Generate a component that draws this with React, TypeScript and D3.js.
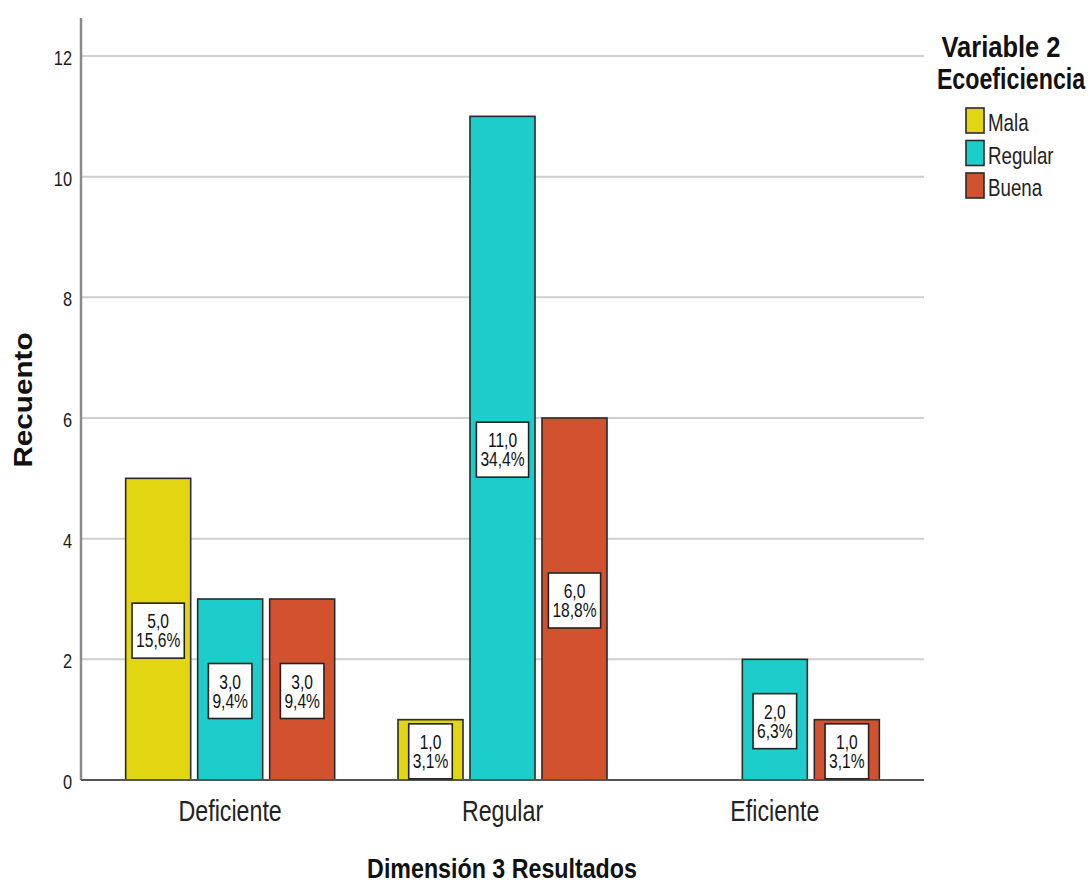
import React from "react";
import * as d3 from "d3";

const categories = ["Deficiente", "Regular", "Eficiente"];
const series = ["Mala", "Regular", "Buena"];
const colors = ["#E2D512", "#1CCDCC", "#D2522F"];
// counts per category, per series
const counts: number[][] = [
  [5, 3, 3],
  [1, 11, 6],
  [0, 2, 1],
];
const percents: string[][] = [
  ["15,6%", "9,4%", "9,4%"],
  ["3,1%", "34,4%", "18,8%"],
  ["", "6,3%", "3,1%"],
];
const yTicks = [0, 2, 4, 6, 8, 10, 12];

const W = 1090;
const H = 885;
const plotLeft = 81;
const plotRight = 924;
const plotTop = 18;
const plotBottom = 780;
const SX = 0.8;
const FONT = "'Liberation Sans', Arial, sans-serif";

const fmt = (v: number) => v.toFixed(1).replace(".", ",");

const charW: Record<string, number> = { ",": 0.278, "%": 0.889 };
const textEm = (s: string) => s.split("").reduce((a, c) => a + (charW[c] ?? 0.556), 0);

function ST(props: {
  x: number;
  y: number;
  size: number;
  sx?: number;
  anchor?: string;
  bold?: boolean;
  fill?: string;
  rotate?: number;
  children: React.ReactNode;
}) {
  const { x, y, size, sx = SX, anchor = "start", bold, fill = "#222", rotate = 0, children } = props;
  return (
    <text
      transform={`translate(${x},${y}) rotate(${rotate}) scale(${sx},1)`}
      textAnchor={anchor}
      fontSize={size}
      fontWeight={bold ? "bold" : "normal"}
      fill={fill}
      fontFamily={FONT}
    >
      {children}
    </text>
  );
}

export default function App() {
  const y = d3.scaleLinear().domain([0, 12]).range([plotBottom, 56]);
  const x0 = d3.scaleBand<string>().domain(categories).range([94, 911]).padding(0);
  const x1 = d3
    .scaleBand<string>()
    .domain(series)
    .range([-108, 108])
    .paddingInner(0.097)
    .paddingOuter(0.0486);
  const labelSize = 19.5;

  return (
    <svg
      width={W}
      height={H}
      style={{ position: "absolute", left: 0, top: 0, background: "#fff" }}
      fontFamily={FONT}
    >
      {/* gridlines */}
      {yTicks.slice(1).map((t) => (
        <line key={t} x1={plotLeft} x2={plotRight} y1={y(t)} y2={y(t)} stroke="#cfcfcf" strokeWidth={2} />
      ))}
      {/* y tick labels */}
      {yTicks.map((t) => (
        <ST key={t} x={72} y={y(t) + 9} size={20.5} anchor="end" fill="#1a1a1a">
          {t}
        </ST>
      ))}
      {/* bars */}
      {categories.map((c, ci) => {
        const cx = (x0(c) as number) + x0.bandwidth() / 2;
        return (
          <g key={c}>
            {series.map((s, si) => {
              const v = counts[ci][si];
              if (!v) return null;
              const bx = cx + (x1(s) as number);
              return (
                <rect
                  key={s}
                  x={bx}
                  y={y(v)}
                  width={x1.bandwidth()}
                  height={plotBottom - y(v)}
                  fill={colors[si]}
                  stroke="#2a2a2a"
                  strokeWidth={1.6}
                />
              );
            })}
          </g>
        );
      })}
      {/* axes */}
      <line x1={plotLeft} x2={plotLeft} y1={plotTop} y2={plotBottom} stroke="#8a8a8a" strokeWidth={2.5} />
      <line x1={plotLeft} x2={plotRight} y1={plotBottom} y2={plotBottom} stroke="#555" strokeWidth={2} />
      {/* value labels */}
      {categories.map((c, ci) => {
        const cx = (x0(c) as number) + x0.bandwidth() / 2;
        return (
          <g key={c}>
            {series.map((s, si) => {
              const v = counts[ci][si];
              if (!v) return null;
              const mx = cx + (x1(s) as number) + x1.bandwidth() / 2;
              const my = y(v / 2) + 1.5;
              const p = percents[ci][si];
              const tw = Math.max(textEm(fmt(v)), textEm(p)) * labelSize * SX;
              const bw = tw + 8;
              const bh = 55;
              return (
                <g key={s}>
                  <rect
                    x={mx - bw / 2}
                    y={my - bh / 2}
                    width={bw}
                    height={bh}
                    fill="#fff"
                    stroke="#222"
                    strokeWidth={1.6}
                  />
                  <ST x={mx} y={my - 2.5} size={labelSize} anchor="middle" fill="#111">
                    {fmt(v)}
                  </ST>
                  <ST x={mx} y={my + 16.5} size={labelSize} anchor="middle" fill="#111">
                    {p}
                  </ST>
                </g>
              );
            })}
          </g>
        );
      })}
      {/* x category labels */}
      {categories.map((c) => (
        <ST key={c} x={(x0(c) as number) + x0.bandwidth() / 2} y={821} size={29} anchor="middle" fill="#222">
          {c}
        </ST>
      ))}
      {/* axis titles */}
      <ST x={502} y={878} size={28} sx={0.83} anchor="middle" bold fill="#111">
        Dimensión 3 Resultados
      </ST>
      <ST x={32} y={400} size={26.5} sx={1.12} rotate={-90} anchor="middle" bold fill="#111">
        Recuento
      </ST>
      {/* legend */}
      <ST x={1001} y={57} size={29} sx={0.88} anchor="middle" bold fill="#111">
        Variable 2
      </ST>
      <ST x={1011} y={89} size={29} sx={0.8} anchor="middle" bold fill="#111">
        Ecoeficiencia
      </ST>
      {series.map((s, si) => (
        <g key={s}>
          <rect
            x={966}
            y={108 + si * 32.5}
            width={18}
            height={25}
            fill={colors[si]}
            stroke="#2a2a2a"
            strokeWidth={1.6}
          />
          <ST x={988} y={131 + si * 32.5} size={24} sx={0.78} fill="#222">
            {s}
          </ST>
        </g>
      ))}
    </svg>
  );
}
